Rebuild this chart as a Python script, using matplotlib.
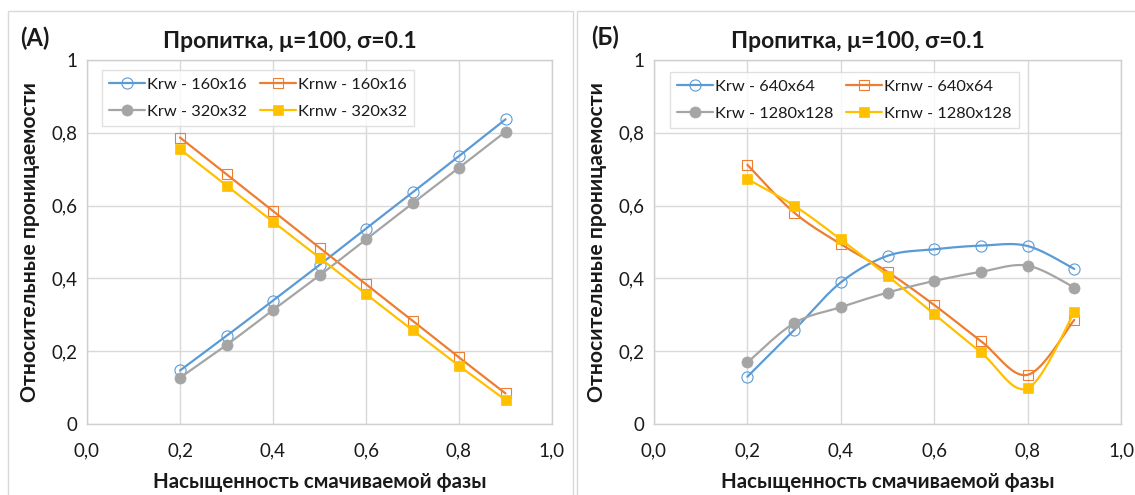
import numpy as np
import matplotlib
matplotlib.use("Agg")
import matplotlib.pyplot as plt
from matplotlib.patches import Rectangle
from matplotlib.ticker import FixedLocator, FuncFormatter

plt.rcParams['font.family'] = ['Lato', 'DejaVu Sans']

# Water saturation
sw = [0.2, 0.3, 0.4, 0.5, 0.6, 0.7, 0.8, 0.9]

# Panel (A): coarse grids
krw_160 = [0.147, 0.242, 0.339, 0.437, 0.537, 0.636, 0.736, 0.837]
krnw_160 = [0.787, 0.686, 0.585, 0.484, 0.384, 0.284, 0.183, 0.084]
krw_320 = [0.127, 0.217, 0.313, 0.408, 0.507, 0.606, 0.704, 0.803]
krnw_320 = [0.755, 0.655, 0.556, 0.457, 0.357, 0.258, 0.160, 0.066]

# Panel (Б): fine grids
krw_640 = [0.130, 0.258, 0.389, 0.462, 0.480, 0.490, 0.489, 0.426]
krnw_640 = [0.712, 0.581, 0.494, 0.418, 0.327, 0.228, 0.135, 0.286]
krw_1280 = [0.169, 0.277, 0.321, 0.361, 0.393, 0.418, 0.435, 0.375]
krnw_1280 = [0.673, 0.600, 0.507, 0.407, 0.302, 0.197, 0.098, 0.307]

title = "Пропитка, μ=100, σ=0.1"
xlabel = "Насыщенность смачиваемой фазы"
ylabel = "Относительные проницаемости"
x_ticks = [0.0, 0.2, 0.4, 0.6, 0.8, 1.0]
y_ticks = [0.0, 0.2, 0.4, 0.6, 0.8, 1.0]

BLUE = "#5B9BD5"
ORANGE = "#ED7D31"
GRAY = "#A5A5A5"
YELLOW = "#FFC000"
GRID = "#D9D9D9"
TXT = "#1a1a1a"

NSEG = 24


def smooth(x, y, n=NSEG):
    """Cubic Bezier smoothing through the points (Catmull-Rom style)."""
    pts = np.column_stack([x, y]).astype(float)
    out = []
    for i in range(len(pts) - 1):
        p0 = pts[i - 1] if i > 0 else pts[i]
        p1 = pts[i]
        p2 = pts[i + 1]
        p3 = pts[i + 2] if i + 2 < len(pts) else pts[i + 1]
        c1 = p1 + (p2 - p0) / 6.0
        c2 = p2 - (p3 - p1) / 6.0
        t = np.linspace(0, 1, n)[:, None]
        seg = (1 - t) ** 3 * p1 + 3 * (1 - t) ** 2 * t * c1 + 3 * (1 - t) * t ** 2 * c2 + t ** 3 * p2
        out.append(seg if i == 0 else seg[1:])
    curve = np.vstack(out)
    marks = [i * (n - 1) for i in range(len(pts))]
    return curve[:, 0], curve[:, 1], marks


def series(ax, y, color, marker, filled, label):
    cx, cy, marks = smooth(sw, y)
    ms = 8.0 if marker == 'o' else 7.6
    ax.plot(cx, cy, color=color, lw=1.6, marker=marker, markevery=marks,
            markersize=ms,
            markerfacecolor=color if filled else 'none',
            markeredgecolor=color, markeredgewidth=0.8 if not filled else 0.5,
            label=label, solid_capstyle='round', solid_joinstyle='round')


def style_axes(ax):
    ax.set_xlim(0, 1)
    ax.set_ylim(0, 1)
    ax.xaxis.set_major_locator(FixedLocator(x_ticks))
    ax.yaxis.set_major_locator(FixedLocator(y_ticks))
    ax.xaxis.set_major_formatter(FuncFormatter(lambda v, p: f"{v:.1f}".replace('.', ',')))
    ax.yaxis.set_major_formatter(FuncFormatter(
        lambda v, p: "0" if v == 0 else ("1" if v == 1 else f"{v:.1f}".replace('.', ','))))
    ax.grid(True, color=GRID, lw=1.0)
    ax.set_axisbelow(True)
    for s in ax.spines.values():
        s.set_color("#CFCFCF")
        s.set_linewidth(1.0)
    ax.tick_params(length=0, labelsize=13.5, colors=TXT, pad=7)
    ax.tick_params(axis='x', pad=13)
    ax.set_xlabel(xlabel, fontsize=14.8, fontweight='bold', color=TXT, labelpad=9)
    ax.set_ylabel(ylabel, fontsize=15.2, fontweight='bold', color=TXT, labelpad=8)


fig = plt.figure(figsize=(11.35, 4.95), dpi=100)

# Chart area frames
fig.add_artist(Rectangle((8 / 1135, -0.1), (573 - 8) / 1135, 1.1 - 11 / 495,
                         transform=fig.transFigure, fill=False, ec=GRID, lw=1.0))
fig.add_artist(Rectangle((577 / 1135, -0.1), 0.5, 1.1 - 11 / 495,
                         transform=fig.transFigure, fill=False, ec=GRID, lw=1.0))

axA = fig.add_axes([87 / 1135, 1 - 424 / 495, 465 / 1135, 364 / 495])
axB = fig.add_axes([654 / 1135, 1 - 424 / 495, 467 / 1135, 364 / 495])

series(axA, krw_160, BLUE, 'o', False, "Krw - 160x16")
series(axA, krnw_160, ORANGE, 's', False, "Krnw - 160x16")
series(axA, krw_320, GRAY, 'o', True, "Krw - 320x32")
series(axA, krnw_320, YELLOW, 's', True, "Krnw - 320x32")

series(axB, krw_640, BLUE, 'o', False, "Krw - 640x64")
series(axB, krnw_640, ORANGE, 's', False, "Krnw - 640x64")
series(axB, krw_1280, GRAY, 'o', True, "Krw - 1280x128")
series(axB, krnw_1280, YELLOW, 's', True, "Krnw - 1280x128")

for ax, anchor in ((axA, (0.032, 0.9725)), (axB, (0.034, 0.967))):
    style_axes(ax)
    h, l = ax.get_legend_handles_labels()
    order = [0, 2, 1, 3]
    leg = ax.legend([h[i] for i in order], [l[i] for i in order], ncol=2,
                    loc='upper left', bbox_to_anchor=anchor, borderaxespad=0,
                    fontsize=11.8, frameon=True, fancybox=False, edgecolor=GRID,
                    handlelength=2.2, handletextpad=0.1, columnspacing=0.8,
                    labelspacing=0.75, borderpad=0.45, labelcolor=TXT)
    leg.get_frame().set_linewidth(1.0)

# Titles centred on each chart area
fig.text(290 / 1135, 1 - 42 / 495, title, ha='center', va='center',
         fontsize=16.5, fontweight='bold', color=TXT)
fig.text(858 / 1135, 1 - 42 / 495, title, ha='center', va='center',
         fontsize=16.5, fontweight='bold', color=TXT)
fig.text(35 / 1135, 1 - 38 / 495, "(A)", ha='center', va='center',
         fontsize=17, fontweight='bold', color=TXT)
fig.text(605 / 1135, 1 - 37 / 495, "(Б)", ha='center', va='center',
         fontsize=17, fontweight='bold', color=TXT)

fig.savefig("out.png", dpi=100, facecolor='white')
